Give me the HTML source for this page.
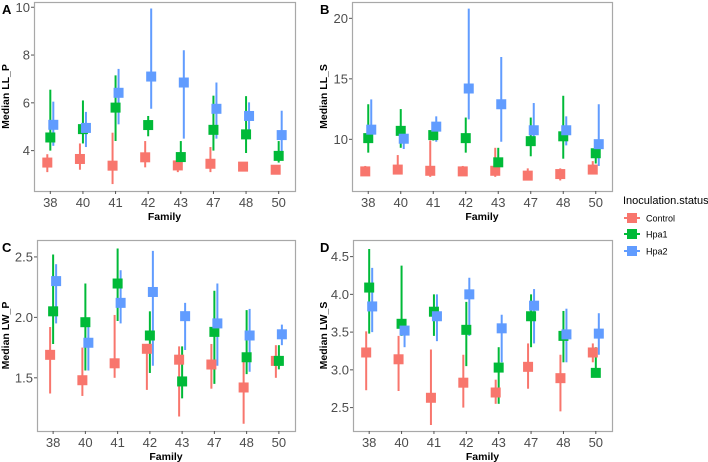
<!DOCTYPE html>
<html><head><meta charset="utf-8"><style>
body{margin:0;background:#fff;width:708px;height:462px;overflow:hidden}
svg{display:block;font-family:"Liberation Sans",sans-serif}
</style></head><body>
<svg id="chart" width="708" height="462" viewBox="0 0 708 462"></svg>
<script>
const categories = ["38","40","41","42","43","47","48","50"];
const groups = ["Control","Hpa1","Hpa2"];
// Panel A: Median LL_P
const aControlMed=[3.5,3.65,3.37,3.72,3.38,3.45,3.33,3.2];
const aControlLo=[3.1,3.2,2.6,3.3,3.1,3.1,3.25,3.15];
const aControlHi=[3.85,4.3,4.75,4.4,3.6,4.15,3.4,3.3];
const aHpa1Med=[4.55,4.9,5.8,5.07,3.73,4.87,4.68,3.78];
const aHpa1Lo=[4.0,4.3,4.4,4.6,3.3,4.0,3.9,3.5];
const aHpa1Hi=[6.55,6.1,7.15,5.45,4.4,6.3,6.28,4.4];
const aHpa2Med=[5.08,4.95,6.42,7.1,6.85,5.75,5.45,4.65];
const aHpa2Lo=[4.2,4.15,5.1,5.75,4.5,4.5,4.7,3.6];
const aHpa2Hi=[6.05,5.62,7.42,9.95,8.2,6.85,6.02,5.67];
// Panel B: Median LL_S
const bControlMed=[7.35,7.5,7.4,7.35,7.4,7.0,7.13,7.5];
const bControlLo=[7.0,7.1,6.9,7.0,6.9,6.7,6.6,7.2];
const bControlHi=[7.8,8.7,9.9,7.8,9.3,7.6,7.6,8.2];
const bHpa1Med=[10.1,10.7,10.35,10.1,8.1,9.85,10.25,8.85];
const bHpa1Lo=[8.9,9.3,9.9,8.9,7.3,8.6,8.4,8.0];
const bHpa1Hi=[12.9,12.5,10.6,11.8,9.3,11.8,13.6,9.6];
const bHpa2Med=[10.8,10.05,11.05,14.2,12.9,10.75,10.75,9.6];
const bHpa2Lo=[9.7,9.2,9.8,11.65,9.8,9.5,9.5,7.8];
const bHpa2Hi=[13.3,10.6,11.9,20.8,16.8,13.0,11.9,12.9];
// Panel C: Median LW_P
const cControlMed=[1.69,1.48,1.62,1.74,1.65,1.61,1.42,1.64];
const cControlLo=[1.37,1.35,1.5,1.4,1.18,1.41,1.12,1.5];
const cControlHi=[1.92,1.75,2.02,1.78,1.76,1.78,1.65,1.77];
const cHpa1Med=[2.05,1.96,2.28,1.85,1.47,1.88,1.67,1.64];
const cHpa1Lo=[1.78,1.56,1.97,1.54,1.33,1.45,1.53,1.57];
const cHpa1Hi=[2.52,2.28,2.57,2.05,1.76,2.22,2.06,1.77];
const cHpa2Med=[2.3,1.79,2.12,2.21,2.01,1.95,1.85,1.86];
const cHpa2Lo=[1.95,1.56,1.95,1.6,1.73,1.6,1.55,1.77];
const cHpa2Hi=[2.44,1.95,2.39,2.55,2.12,2.28,2.07,1.94];
// Panel D: Median LW_S
const dControlMed=[3.23,3.14,2.63,2.83,2.7,3.04,2.89,3.23];
const dControlLo=[2.73,2.72,2.27,2.5,2.55,2.75,2.45,3.1];
const dControlHi=[3.51,3.45,3.27,3.2,2.87,3.35,3.2,3.35];
const dHpa1Med=[4.09,3.61,3.77,3.53,3.03,3.71,3.45,2.96];
const dHpa1Lo=[3.48,3.45,3.45,3.05,2.55,3.3,3.1,2.95];
const dHpa1Hi=[4.6,4.38,4.0,3.9,3.3,4.0,3.78,3.3];
const dHpa2Med=[3.84,3.52,3.71,4.0,3.55,3.85,3.47,3.48];
const dHpa2Lo=[3.5,3.3,3.38,3.45,3.1,3.35,3.1,3.2];
const dHpa2Hi=[4.35,3.65,4.0,4.22,3.73,4.07,3.81,3.75];
const aTicks=[4,6,8,10], bTicks=[10,15,20], cTicks=[1.5,2.0,2.5], dTicks=[2.5,3.0,3.5,4.0,4.5];

const colors=["#F8766D","#00BA38","#619CFF"];
const NS="http://www.w3.org/2000/svg";
const svg=document.getElementById('chart');
function mk(tag,attrs,parent,text){const e=document.createElementNS(NS,tag);for(const k in attrs)e.setAttribute(k,attrs[k]);if(text!==undefined)e.textContent=text;(parent||svg).appendChild(e);return e;}

const panels=[
 {id:'a',letter:'A',title:'Median LL_P',x0:34,x1:295,y0:2,y1:191,vmin:2.31,vmax:10.22,ticks:aTicks,dec:0,lx:2,tx:9,data:[[aControlMed,aControlLo,aControlHi],[aHpa1Med,aHpa1Lo,aHpa1Hi],[aHpa2Med,aHpa2Lo,aHpa2Hi]]},
 {id:'b',letter:'B',title:'Median LL_S',x0:352,x1:612,y0:2,y1:191,vmin:5.73,vmax:21.35,ticks:bTicks,dec:0,lx:320,tx:327,data:[[bControlMed,bControlLo,bControlHi],[bHpa1Med,bHpa1Lo,bHpa1Hi],[bHpa2Med,bHpa2Lo,bHpa2Hi]]},
 {id:'c',letter:'C',title:'Median LW_P',x0:37,x1:295,y0:240,y1:431,vmin:1.06,vmax:2.64,ticks:cTicks,dec:1,lx:2,tx:9,data:[[cControlMed,cControlLo,cControlHi],[cHpa1Med,cHpa1Lo,cHpa1Hi],[cHpa2Med,cHpa2Lo,cHpa2Hi]]},
 {id:'d',letter:'D',title:'Median LW_S',x0:353,x1:612,y0:240,y1:431,vmin:2.19,vmax:4.72,ticks:dTicks,dec:1,lx:320,tx:327,data:[[dControlMed,dControlLo,dControlHi],[dHpa1Med,dHpa1Lo,dHpa1Hi],[dHpa2Med,dHpa2Lo,dHpa2Hi]]}
];

panels.forEach(p=>{
  const g=mk('g',{});
  
  
  const yS=v=>p.y1-(v-p.vmin)/(p.vmax-p.vmin)*(p.y1-p.y0);
  const w=p.x1-p.x0, step=w/categories.length;
  const xS=i=>p.x0+step*(i+0.5);
  const box=mk('rect',{x:p.x0+0.5,y:p.y0+0.5,width:w,height:p.y1-p.y0,fill:'#fff',stroke:'#a8a8a8','stroke-width':1.2},g);
  
  
  p.ticks.forEach(t=>{
    const y=yS(t);
    mk('line',{x1:p.x0-3,x2:p.x0,y1:y,y2:y,stroke:'#555','stroke-width':1},g);
    const tl=mk('text',{x:p.x0-4,y:y+4.5,'text-anchor':'end','font-size':13,fill:'#4d4d4d'},g,t.toFixed(p.dec));
    
    
  });
  categories.forEach((c,i)=>{
    const x=xS(i);
    mk('line',{x1:x,x2:x,y1:p.y1,y2:p.y1+3,stroke:'#555','stroke-width':1},g);
    const tl=mk('text',{x:x,y:p.y1+16,'text-anchor':'middle','font-size':13,fill:'#4d4d4d'},g,c);
    
    
  });
  const xt=mk('text',{x:(p.x0+p.x1)/2,y:p.y1+29,'text-anchor':'middle','font-size':10.5,'font-weight':'bold',fill:'#000'},g,'Family');
  
  
  const cy=(p.y0+p.y1)/2;
  const yt=mk('text',{x:0,y:0,transform:`translate(${p.tx},${cy}) rotate(-90)`,'text-anchor':'middle','font-size':10.5,'font-weight':'bold',fill:'#000'},g,p.title);
  
  
  const lt=mk('text',{x:p.lx,y:p.y0+12,'font-size':13,'font-weight':'bold',fill:'#000'},g,p.letter);
  
  
  p.data.forEach((s,gi)=>{
    const off=(gi-1)*3;
    categories.forEach((c,i)=>{
      const x=xS(i)+off;
      const eb=mk('line',{x1:x,x2:x,y1:yS(s[1][i]),y2:yS(s[2][i]),stroke:colors[gi],'stroke-width':2},g);
      
      
    });
  });
  p.data.forEach((s,gi)=>{
    const off=(gi-1)*3;
    categories.forEach((c,i)=>{
      const x=xS(i)+off, y=yS(s[0][i]);
      const pt=mk('rect',{x:x-5,y:y-5,width:10,height:10,fill:colors[gi]},g);
      
      
    });
  });
});

const lg=mk('g',{});


const ltitle=mk('text',{x:623,y:204,'font-size':11,fill:'#000'},lg,'Inoculation.status');


const lys=[218,234,251];
groups.forEach((gname,gi)=>{
  const e=mk('g',{},lg);
  
  
  mk('line',{x1:624,x2:640,y1:lys[gi],y2:lys[gi],stroke:colors[gi],'stroke-width':2},e);
  mk('rect',{x:627,y:lys[gi]-5,width:10,height:10,fill:colors[gi]},e);
  mk('text',{x:646,y:lys[gi]+3.5,'font-size':9,fill:'#000'},e,gname);
});
</script>
</body></html>
